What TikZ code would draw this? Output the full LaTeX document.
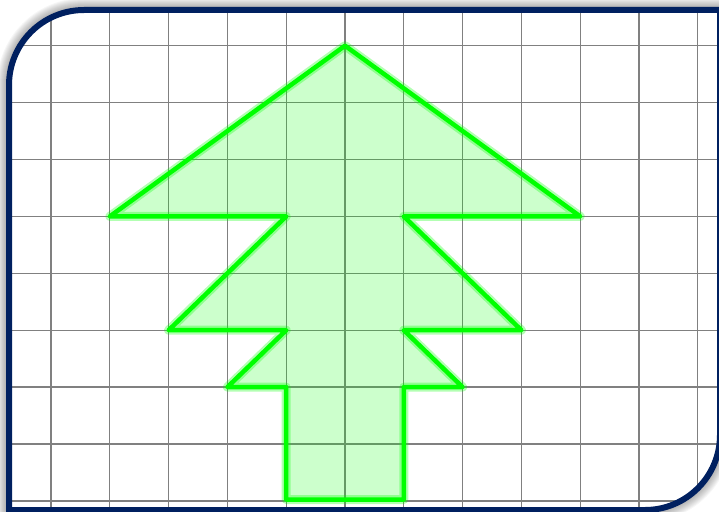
\documentclass[tikz,border=0pt]{standalone}
\definecolor{framenavy}{RGB}{0,32,96}
\definecolor{gridgray}{RGB}{128,128,128}
\begin{document}
\begin{tikzpicture}[x=1pt,y=-1pt,
  gridline/.style={draw=gridgray, line width=1.3pt},
  framestyle/.style={draw=framenavy, line width=6pt},
  shadowstyle/.style={draw=black, draw opacity=0.035, line join=round},
  treefill/.style={fill=green, fill opacity=0.2},
  treehalo/.style={draw=green, draw opacity=0.3, line width=9pt, line join=round},
  treeline/.style={draw=green, line width=4.5pt, line join=round}]
\useasboundingbox (0,0) rectangle (719,511);
\def\framepath{(9,510) -- (9,85) .. controls (9,43.6) and (42.6,10) .. (84,10) -- (720,10) -- (720,435) .. controls (720,476.4) and (686.4,510) .. (645,510) -- cycle}
% shadow
\foreach \w in {8,10,...,24} {
  \draw[shadowstyle, line width=\w pt] \framepath;
}
\fill[white] \framepath;
% grid
\begin{scope}
\clip \framepath;
\foreach \x in {51,109.8,168.6,227.4,286.2,345,403.8,462.6,521.4,580.2,639,697.8}
  \draw[gridline] (\x,0) -- (\x,520);
\foreach \y in {45.7,102.6,159.5,216.4,273.3,330.2,387.1,444,500.9}
  \draw[gridline] (0,\y) -- (730,\y);
\end{scope}
% tree
\coordinate (apex) at (345,45.7);
\coordinate (l1) at (109.8,216.4);
\coordinate (l1i) at (286.2,216.4);
\coordinate (l2) at (168.6,330.2);
\coordinate (l2i) at (286.2,330.2);
\coordinate (l3) at (227.4,387.1);
\coordinate (l3i) at (286.2,387.1);
\coordinate (bl) at (286.2,499.5);
\coordinate (br) at (403.8,499.5);
\coordinate (r3i) at (403.8,387.1);
\coordinate (r3) at (462.6,387.1);
\coordinate (r2i) at (403.8,330.2);
\coordinate (r2) at (521.4,330.2);
\coordinate (r1i) at (403.8,216.4);
\coordinate (r1) at (580.2,216.4);
\def\treepath{(apex) -- (l1) -- (l1i) -- (l2) -- (l2i) -- (l3) -- (l3i) -- (bl) -- (br) -- (r3i) -- (r3) -- (r2i) -- (r2) -- (r1i) -- (r1) -- cycle}
\fill[treefill] \treepath;
\draw[treehalo] \treepath;
\draw[treeline] \treepath;
% frame
\draw[framestyle] \framepath;
\end{tikzpicture}
\end{document}
